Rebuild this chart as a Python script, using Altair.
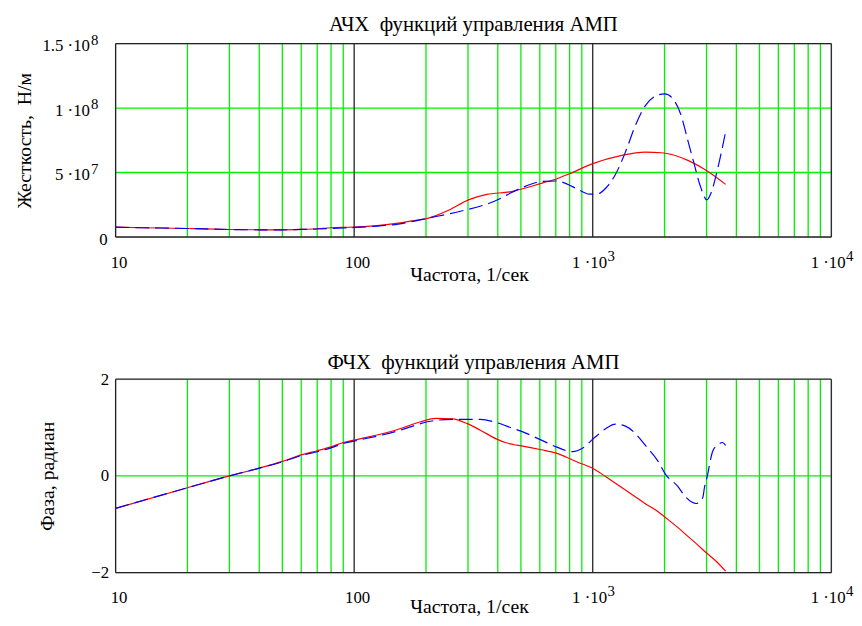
import altair as alt
import pandas as pd

FONT = "Liberation Serif"
GREEN = "#00f000"
DECADE = "#222222"

# ---------------- data ----------------
# Top panel: stiffness (units of 1e6 N/m)
mag_red_f = [10, 13, 20, 30, 40, 50, 60, 70, 80, 90, 100, 125, 153, 175, 203, 250, 303,
             360, 449, 619, 703, 798, 1000, 1324, 1656, 1940, 2505, 2940, 3606]
mag_red = [7.6, 7.2, 6.6, 5.8, 5.6, 5.6, 5.9, 6.4, 7.2, 7.5, 7.6, 8.8, 10.7, 12.5, 14.5, 21,
           29, 33, 35, 42, 45, 49, 56.9, 63.3, 65.8, 65.3, 59.4, 52.5, 40.8]

mag_blue_f = [10, 13, 20, 30, 40, 50, 60, 70, 80, 90, 100, 125, 153, 175, 203, 279, 385, 494,
              609, 703, 850, 970, 1050, 1136, 1230, 1371, 1507, 1656, 1825, 2005, 2180,
              2340, 2505, 2650, 2815, 3010, 3130, 3340, 3606]
mag_blue = [7.6, 7.2, 6.6, 5.8, 5.6, 5.6, 5.9, 6.2, 6.6, 7.0, 7.4, 8.5, 10, 12, 14.5, 20, 27.5,
            37.5, 43, 43.4, 37.8, 33.2, 33.5, 38, 46.7, 65.8, 86.2, 101.5, 109, 111, 106.6,
            95, 74.7, 58, 40.3, 28.8, 34, 53, 81.6]

# Bottom panel: phase (radian)
ph_red_f = [10, 20, 30, 40, 50, 60, 70, 80, 90, 100, 150, 190, 220, 258, 298, 338, 396, 430,
            464, 503, 609, 703, 824, 905, 1000, 1136, 1245, 1371, 1507, 1656, 1880, 2005,
            2277, 2505, 2716, 3010, 3300, 3606]
ph_red = [-0.67, -0.245, 0, 0.16, 0.3, 0.435, 0.52, 0.6, 0.69, 0.74, 0.95, 1.12, 1.19, 1.18,
          1.08, 0.945, 0.76, 0.69, 0.65, 0.62, 0.54, 0.47, 0.33, 0.245, 0.16, -0.02, -0.15,
          -0.29, -0.43, -0.57, -0.74, -0.85, -1.07, -1.25, -1.40, -1.60, -1.77, -1.97]

ph_blue_f = [10, 20, 30, 40, 50, 60, 70, 80, 90, 100, 150, 190, 203, 258, 298, 338, 396, 464,
             503, 609, 703, 824, 905, 1012, 1136, 1245, 1371, 1507, 1656, 1880, 2020, 2277,
             2427, 2600, 2716, 2892, 2940, 3010, 3178, 3340, 3500, 3606]
ph_blue = [-0.67, -0.245, 0, 0.16, 0.29, 0.42, 0.5, 0.58, 0.67, 0.72, 0.92, 1.08, 1.12, 1.17,
           1.17, 1.17, 1.1, 0.98, 0.92, 0.74, 0.6, 0.5, 0.57, 0.78, 0.98, 1.07, 1.03, 0.88,
           0.64, 0.3, 0.03, -0.22, -0.41, -0.54, -0.57, -0.45, -0.24, -0.04, 0.5, 0.64, 0.69,
           0.63]

# Tick labels (mantissa text + superscript exponent, Mathcad style)
x_ticks = [10, 100, 1000, 10000]
x_tick_text = ["10", "100", "1 \u00b710", "1 \u00b710"]
x_tick_exp = ["", "", "3", "4"]

top_y_ticks = [0, 5e7, 1e8, 1.5e8]
top_y_text = ["0", "5 \u00b710", "1 \u00b710", "1.5 \u00b710"]
top_y_exp = ["", "7", "8", "8"]

bot_y_ticks = [-2, 0, 2]

x_minor = [20, 30, 40, 50, 60, 70, 80, 90, 200, 300, 400, 500, 600, 700, 800, 900,
           2000, 3000, 4000, 5000, 6000, 7000, 8000, 9000]
x_major = [10, 100, 1000, 10000]
top_y_grid = [5e7, 1e8]
bot_y_grid = [0]
top_y_frame = [0, 1.5e8]
bot_y_frame = [-2, 2]

top_title = "АЧХ\u00a0 функций управления АМП"
bot_title = "ФЧХ\u00a0 функций управления АМП"

W, H = 725, 196
LBL = 17   # label font size
EXP = 15   # exponent font size

bot_y_label_expr = "datum.value == 0 ? '0' : datum.value > 0 ? '2' : '\u22122'"


def x_enc(title_y):
    return alt.X(
        "f:Q",
        scale=alt.Scale(type="log", domain=[10, 10000], nice=False),
        axis=alt.Axis(
            values=x_ticks, labels=False, grid=False, ticks=False, tickSize=0,
            domain=False, title="Частота, 1/сек", titleFont=FONT, titleFontSize=20,
            titleFontWeight="normal", titleColor="black", titleX=358, titleY=title_y,
            titleBaseline="alphabetic",
        ),
    )


def y_enc(domain, values, show_labels, title, title_x):
    return alt.Y(
        "y:Q",
        scale=alt.Scale(domain=domain, nice=False, zero=False),
        axis=alt.Axis(
            values=values, labels=show_labels, labelExpr=bot_y_label_expr, grid=False,
            ticks=False, tickSize=0, domain=False, labelFlush=False, labelOverlap=False,
            labelFont=FONT, labelFontSize=LBL, labelColor="black", labelBaseline="middle",
            labelPadding=7, title=title, titleFont=FONT, titleFontSize=20,
            titleFontWeight="normal", titleColor="black", titleX=title_x, titleY=H / 2,
            titleBaseline="alphabetic", titleAngle=270,
        ),
    )


def text_layer(df, filt, **kw):
    return alt.Chart(df).transform_filter(filt).mark_text(
        font=FONT, color="black", baseline="alphabetic", **kw)


def panel(title, title_offset, ytitle, ytitle_x, ydomain, yvalues, top_labels,
          ygrid, yframe, red_f, red_v, blue_f, blue_v, xtitle_y):
    X = x_enc(xtitle_y)
    Y = y_enc(ydomain, yvalues, not top_labels, ytitle, ytitle_x)

    minor = alt.Chart(pd.DataFrame({"f": x_minor})).mark_rule(
        color=GREEN, strokeWidth=1.3).encode(x=X)
    hgrid = alt.Chart(pd.DataFrame({"y": ygrid})).mark_rule(
        color=GREEN, strokeWidth=1.3).encode(y=Y)
    major = alt.Chart(pd.DataFrame({"f": x_major})).mark_rule(
        color=DECADE, strokeWidth=1.3).encode(x=X)
    hframe = alt.Chart(pd.DataFrame({"y": yframe})).mark_rule(
        color=DECADE, strokeWidth=1.3).encode(y=Y)
    red = alt.Chart(pd.DataFrame({"f": red_f, "y": red_v})).mark_line(
        color="#ff0000", strokeWidth=1.2, interpolate="monotone").encode(x=X, y=Y)
    blue = alt.Chart(pd.DataFrame({"f": blue_f, "y": blue_v})).mark_line(
        color="#0000ff", strokeWidth=1.2, strokeDash=[14, 6],
        interpolate="monotone").encode(x=X, y=Y)
    head = alt.Chart(pd.DataFrame({"t": [title]})).mark_text(
        font=FONT, fontSize=21, color="black", align="center", baseline="alphabetic"
    ).encode(text="t:N", x=alt.value(W / 2), y=alt.value(-title_offset))

    # x tick labels
    xdf = pd.DataFrame({"f": x_ticks, "m": x_tick_text, "e": x_tick_exp})
    xl_plain = text_layer(xdf, "datum.e == ''", fontSize=LBL, align="center", dx=3.5
                          ).encode(x=X, y=alt.value(H + 31), text="m:N")
    xl_mant = text_layer(xdf, "datum.e != ''", fontSize=LBL, align="right", dx=14.5
                         ).encode(x=X, y=alt.value(H + 31), text="m:N")
    xl_exp = text_layer(xdf, "datum.e != ''", fontSize=EXP, align="left", dx=15
                        ).encode(x=X, y=alt.value(H + 24), text="e:N")
    layers = [minor, hgrid, major, hframe, red, blue, head, xl_plain, xl_mant, xl_exp]

    if top_labels:
        ydf = pd.DataFrame({"y": top_y_ticks, "m": top_y_text, "e": top_y_exp})
        yl_plain = text_layer(ydf, "datum.e == ''", fontSize=LBL, align="right", dy=8
                              ).encode(x=alt.value(-8), y=Y, text="m:N")
        yl_mant = text_layer(ydf, "datum.e != ''", fontSize=LBL, align="right", dy=8
                             ).encode(x=alt.value(-26), y=Y, text="m:N")
        yl_exp = text_layer(ydf, "datum.e != ''", fontSize=EXP, align="left", dy=1
                            ).encode(x=alt.value(-25), y=Y, text="e:N")
        layers += [yl_plain, yl_mant, yl_exp]

    return alt.layer(*layers).properties(width=W, height=H)


top = panel(top_title, 13, "Жесткость,\u00a0 Н/м", -86,
            [0, 1.5e8], top_y_ticks, True, top_y_grid, top_y_frame,
            mag_red_f, [v * 1e6 for v in mag_red], mag_blue_f, [v * 1e6 for v in mag_blue],
            44)
bottom = panel(bot_title, 10, "Фаза, радиан", -63,
               [-2, 2], bot_y_ticks, False, bot_y_grid, bot_y_frame,
               ph_red_f, ph_red, ph_blue_f, ph_blue, 40)

chart = alt.vconcat(top, bottom, spacing=144, bounds="flush").properties(
    padding={"left": 6, "top": 1, "right": 0, "bottom": 0}
).configure_view(stroke="#111111", strokeWidth=1.5).configure(background="white")

chart.save("out.html", embed_options={"renderer": "svg", "actions": False})
